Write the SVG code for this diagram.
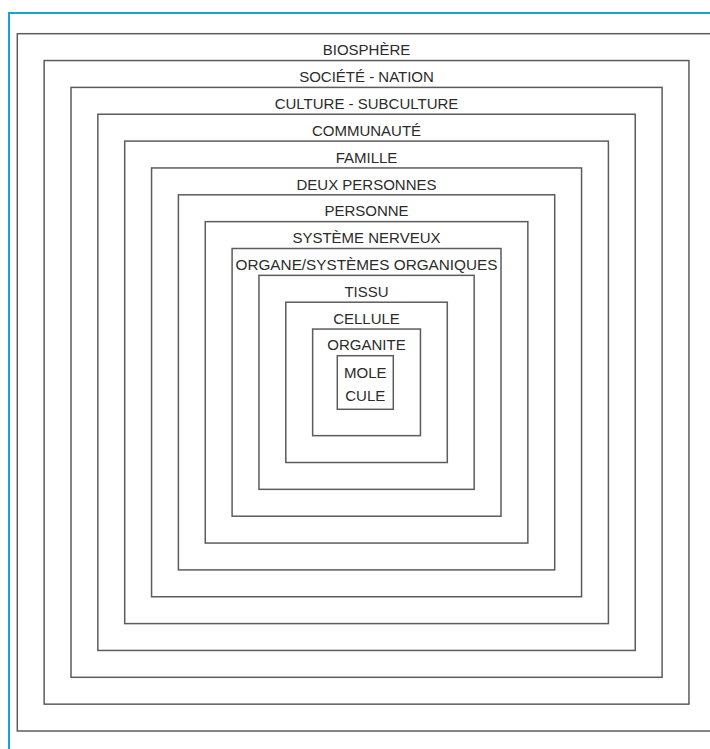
<svg xmlns="http://www.w3.org/2000/svg" width="710" height="749" viewBox="0 0 710 749">
<style>
.b{fill:none;stroke:#5c5c5c;stroke-width:1.5}
.t{font-family:"Liberation Sans",Arial,sans-serif;font-size:15px;fill:#2b2b2b;text-anchor:middle}
</style>
<rect x="0" y="0" width="710" height="749" fill="#fff"/>
<rect x="9" y="13" width="720" height="760" fill="none" stroke="#1aa1d3" stroke-width="2"/>
<g id="biosphere"><rect class="b" x="17.3" y="33.7" width="698.5" height="697.3"/><text class="t" x="366.5" y="55.2">BIOSPHÈRE</text></g>
<g id="societe"><rect class="b" x="44.15" y="60.55" width="644.8" height="643.6"/><text class="t" x="366.5" y="82.1">SOCIÉTÉ - NATION</text></g>
<g id="culture"><rect class="b" x="71" y="87.4" width="591.1" height="589.9"/><text class="t" x="366.5" y="108.9">CULTURE - SUBCULTURE</text></g>
<g id="communaute"><rect class="b" x="97.85" y="114.25" width="537.4" height="536.2"/><text class="t" x="366.5" y="135.8">COMMUNAUTÉ</text></g>
<g id="famille"><rect class="b" x="124.7" y="141.1" width="483.7" height="482.5"/><text class="t" x="366.5" y="162.6">FAMILLE</text></g>
<g id="deux-personnes"><rect class="b" x="151.55" y="167.95" width="430" height="428.8"/><text class="t" x="366.5" y="189.5">DEUX PERSONNES</text></g>
<g id="personne"><rect class="b" x="178.4" y="194.8" width="376.3" height="375.1"/><text class="t" x="366.5" y="216.3">PERSONNE</text></g>
<g id="systeme-nerveux"><rect class="b" x="205.25" y="221.65" width="322.6" height="321.4"/><text class="t" x="366.5" y="243.2">SYSTÈME NERVEUX</text></g>
<g id="organe"><rect class="b" x="232.1" y="248.5" width="268.9" height="267.7"/><text class="t" x="366.5" y="270" textLength="262" lengthAdjust="spacingAndGlyphs">ORGANE/SYSTÈMES ORGANIQUES</text></g>
<g id="tissu"><rect class="b" x="258.95" y="275.35" width="215.2" height="214"/><text class="t" x="366.5" y="296.9">TISSU</text></g>
<g id="cellule"><rect class="b" x="285.8" y="302.2" width="161.5" height="160.3"/><text class="t" x="366.5" y="323.7">CELLULE</text></g>
<g id="organite"><rect class="b" x="312.65" y="329.05" width="107.8" height="106.6"/><text class="t" x="366.5" y="350.3">ORGANITE</text></g>
<g id="molecule"><rect class="b" x="337.3" y="355.7" width="56" height="53.6"/><text class="t" x="365.3" y="377.5">MOLE</text><text class="t" x="365.3" y="400.5">CULE</text></g>
<g id="connectors"></g>
</svg>
